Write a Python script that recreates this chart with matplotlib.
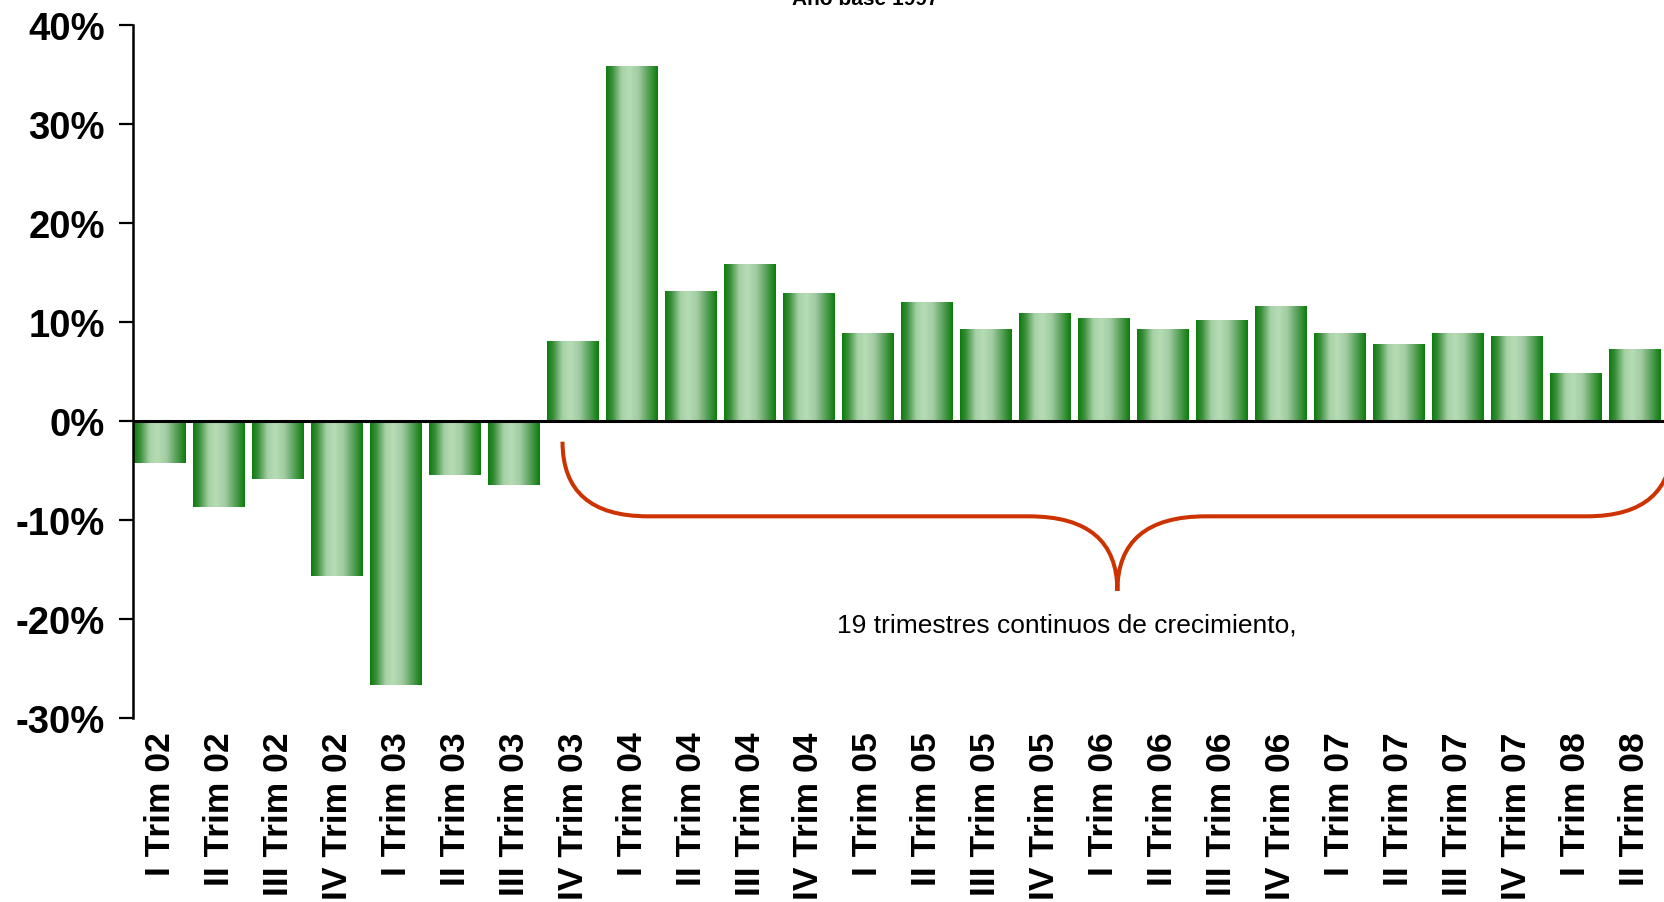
#!/usr/bin/python3

import matplotlib
matplotlib.use('Agg')
import matplotlib.pyplot as plt
import numpy as np
from matplotlib.colors import LinearSegmentedColormap
from matplotlib.path import Path
from matplotlib.patches import PathPatch

# data
quarters = ['I', 'II', 'III', 'IV']
years = ['02', '03', '04', '05', '06', '07', '08']
labels = ['{0} Trim {1}'.format(q, y) for y in years for q in quarters][:26]
growth = [-4.3, -8.7, -5.9, -15.7, -26.7, -5.5, -6.5,
          8.0, 35.9, 13.1, 15.8, 12.9, 8.8, 12.0, 9.3, 10.9,
          10.4, 9.3, 10.2, 11.6, 8.8, 7.7, 8.8, 8.5, 4.8, 7.2]
yticks = [-30, -20, -10, 0, 10, 20, 30, 40]
title = 'Año base 1997'
note = '19 trimestres continuos de crecimiento,'

plt.rcParams['font.family'] = ['Liberation Sans', 'DejaVu Sans']
plt.rcParams['font.weight'] = 'bold'

bar_cmap = LinearSegmentedColormap.from_list(
    'bar', [(0.0, '#0a7d0a'), (0.12, '#3c8f3c'), (0.3, '#a6d1a6'),
            (0.45, '#b6dcb6'), (0.62, '#a2cca2'), (0.85, '#4a984a'), (1.0, '#0a7d0a')])

fig = plt.figure(figsize=(16.64, 9.03), dpi=100)
ax = fig.add_axes([0.0797, 0.2043, 0.9203, 0.7664])

x = np.arange(len(growth))
bars = ax.bar(x, growth, width=0.88, color='none', edgecolor='none', zorder=2)
grad = np.linspace(0, 1, 256).reshape(1, -1)
for b in bars:
    x0, y0 = b.get_x(), b.get_y()
    ax.imshow(grad, cmap=bar_cmap, aspect='auto', interpolation='bicubic',
              extent=[x0, x0 + b.get_width(), y0, y0 + b.get_height()], zorder=2)

ax.axhline(0, color='black', lw=2.2, zorder=3)

# brace under the growth streak
bx0, btip, by0, bmid, bpt = 6.82, 16.23, -2.1, -9.65, -17.2
bx1 = 2 * btip - bx0
verts = [(bx0, by0), (bx0, bmid), (bx0 + 1.45, bmid),
         (btip - 1.5, bmid),
         (btip, bmid), (btip, bpt),
         (btip, bmid), (btip + 1.5, bmid),
         (bx1 - 1.45, bmid),
         (bx1, bmid), (bx1, by0)]
codes = [Path.MOVETO, Path.CURVE3, Path.CURVE3, Path.LINETO,
         Path.CURVE3, Path.CURVE3, Path.CURVE3, Path.CURVE3,
         Path.LINETO, Path.CURVE3, Path.CURVE3]
ax.add_patch(PathPatch(Path(verts, codes), facecolor='none', edgecolor='#cc3300',
                       lw=2.9, capstyle='butt', zorder=4))
ax.text(15.37, -20.6, note, ha='center', va='center', fontsize=19, fontweight='normal')

ax.set_xlim(-0.47, 25.5)
ax.set_ylim(-30, 40)
ax.set_yticks(yticks)
ax.set_yticklabels(['{0}%'.format(v) for v in yticks], fontsize=27.5)
ax.set_xticks(x)
ax.set_xticklabels(labels, rotation=90, fontsize=25.5)
ax.tick_params(axis='x', length=0, pad=10)
ax.tick_params(axis='y', length=10, width=1.6, pad=10)
for s in ['top', 'right', 'bottom']:
    ax.spines[s].set_visible(False)
ax.spines['left'].set_linewidth(1.8)

fig.text(0.52, 0.9945, title, ha='center', va='baseline', fontsize=15, fontweight='bold')

plt.savefig('out.png', dpi=100)
